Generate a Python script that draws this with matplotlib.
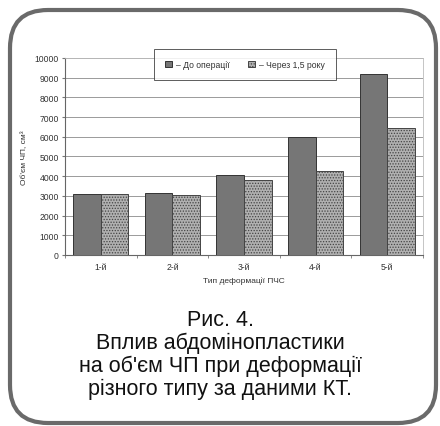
import numpy as np
import matplotlib.pyplot as plt
from matplotlib.patches import FancyBboxPatch

plt.rcParams['font.family'] = ['Liberation Sans', 'DejaVu Sans']
plt.rcParams['hatch.linewidth'] = 0.6
plt.rcParams['hatch.color'] = '#666666'

# Data
categories = ["1-й", "2-й", "3-й", "4-й", "5-й"]
before_op = [3100, 3150, 4050, 6000, 9200]
after_1_5y = [3100, 3050, 3800, 4250, 6450]
series_labels = ["– До операції", "– Через 1,5 року"]

caption = ("Рис. 4.\nВплив абдомінопластики\n"
           "на об'єм ЧП при деформації\nрізного типу за даними КТ.")

fig = plt.figure(figsize=(4.4, 4.27), dpi=100)

# rounded frame around the whole figure, kept behind the axes
frame = FancyBboxPatch((0.10, 0.03), 4.26, 4.13,
                       boxstyle="round,pad=0,rounding_size=0.38",
                       transform=fig.dpi_scale_trans,
                       facecolor="none", edgecolor="#6a6a6a", linewidth=3.0,
                       zorder=-1)
fig.patches.append(frame)

ax = fig.add_axes([0.148, 0.4005, 0.813, 0.4615])

x = np.arange(len(categories))
w = 0.385
ax.bar(x - w / 2, before_op, w, color="#767676", edgecolor="#333333",
       linewidth=0.7, label=series_labels[0], zorder=3)
ax.bar(x + w / 2, after_1_5y, w, color="#b0b0b0", edgecolor="#444444",
       hatch="......", linewidth=0.7, label=series_labels[1], zorder=3)

ax.set_xlim(-0.5, len(categories) - 0.5)
ax.set_ylim(0, 10000)
ax.set_yticks(np.arange(0, 10001, 1000))
ax.grid(axis="y", color="#9a9a9a", linewidth=0.7, zorder=0)

ax.set_xticks(x)
ax.set_xticklabels(categories, fontsize=6.2, color="#333333")
ax.set_xticks(np.arange(-0.5, len(categories), 1), minor=True)
ax.tick_params(axis="x", which="major", length=0, pad=5)
ax.tick_params(axis="x", which="minor", length=2.5, color="#777777")
ax.tick_params(axis="y", labelsize=6.2, labelcolor="#333333", length=2.5,
               color="#777777", pad=2)

for side in ("left", "bottom"):
    ax.spines[side].set_color("#666666")
    ax.spines[side].set_linewidth(0.8)
for side in ("right", "top"):
    ax.spines[side].set_color("#bbbbbb")
    ax.spines[side].set_linewidth(0.6)

ax.set_xlabel("Тип деформації ПЧС", fontsize=6, color="#333333", labelpad=4)
ax.set_ylabel("Об'єм ЧП, см³", fontsize=6, color="#333333", labelpad=5)

leg = ax.legend(loc="upper center", bbox_to_anchor=(0.503, 1.046), ncol=2,
                fontsize=6.2, frameon=True, fancybox=False, edgecolor="#333333",
                handlelength=0.8, handleheight=0.8, handletextpad=0.4,
                columnspacing=2.2, borderpad=1.3, borderaxespad=0)
leg.get_frame().set_linewidth(0.7)
for t in leg.get_texts():
    t.set_color("#333333")

fig.text(0.5, 0.275, caption, ha="center", va="top", fontsize=15.5,
         linespacing=1.12, color="#111111")

fig.savefig("out.png", dpi=100)
